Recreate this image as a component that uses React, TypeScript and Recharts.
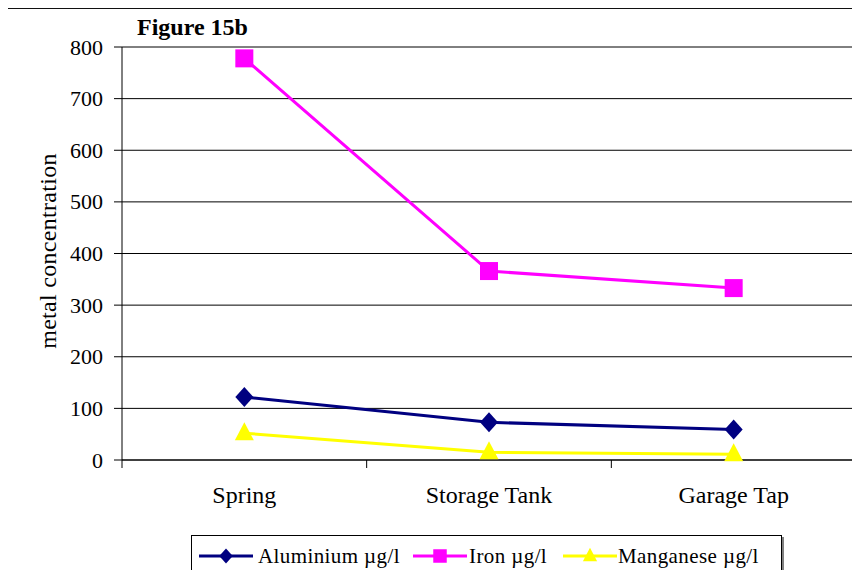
import React from "react";
import { LineChart, Line, XAxis, YAxis, CartesianGrid } from "recharts";

const sites = ["Spring", "Storage Tank", "Garage Tap"];
const aluminium = [122, 73, 59];
const iron = [778, 366, 333];
const manganese = [52, 15, 11];
const yTicks = [0, 100, 200, 300, 400, 500, 600, 700, 800];

const data = sites.map((name, i) => ({
  name,
  aluminium: aluminium[i],
  iron: iron[i],
  manganese: manganese[i],
}));

const W = 860;
const H = 578;
const PLOT_LEFT = 122;
const PLOT_RIGHT = 856;
const HALF_BAND = (PLOT_RIGHT - PLOT_LEFT) / sites.length / 2;
const FONT = '"Liberation Serif", "Times New Roman", serif';

type Shape = "diamond" | "square" | "triangle";

const series: { key: string; label: string; color: string; shape: Shape }[] = [
  { key: "aluminium", label: "Aluminium µg/l", color: "#000080", shape: "diamond" },
  { key: "iron", label: "Iron µg/l", color: "#FF00FF", shape: "square" },
  { key: "manganese", label: "Manganese µg/l", color: "#FFFF00", shape: "triangle" },
];

// legend swatch positions inside the legend box
const legendSwatchX = [7, 221, 371];
const legendTextX = [66, 277, 426];

const Marker = ({ cx, cy, shape, color, s = 1 }: { cx: number; cy: number; shape: Shape; color: string; s?: number }) => {
  if (shape === "diamond") {
    return <polygon points={`${cx},${cy - 10 * s} ${cx + 9 * s},${cy} ${cx},${cy + 10 * s} ${cx - 9 * s},${cy}`} fill={color} />;
  }
  if (shape === "square") {
    return <rect x={cx - 9 * s} y={cy - 9 * s} width={18 * s} height={18 * s} fill={color} />;
  }
  return <polygon points={`${cx},${cy - 11 * s} ${cx + 9.5 * s},${cy + 7 * s} ${cx - 9.5 * s},${cy + 7 * s}`} fill={color} />;
};

// category labels centred in each band, tick marks on the band edges
const CategoryTick = (props: any) => {
  const { x, y, payload, index } = props;
  return (
    <g>
      <line x1={x - HALF_BAND} y1={y} x2={x - HALF_BAND} y2={y + 8} stroke="#000" />
      {index === sites.length - 1 && <line x1={x + HALF_BAND} y1={y} x2={x + HALF_BAND} y2={y + 8} stroke="#000" />}
      <text x={x} y={y + 43} textAnchor="middle" fontSize={24} fontFamily={FONT} fill="#000">
        {payload.value}
      </text>
    </g>
  );
};

const ValueTick = (props: any) => {
  const { x, y, payload } = props;
  return (
    <text x={x} y={y + 7.5} textAnchor="end" fontSize={22} fontFamily={FONT} fill="#000">
      {payload.value}
    </text>
  );
};

export default function App() {
  return (
    <div
      style={{
        position: "relative",
        width: W,
        height: H,
        margin: -8,
        overflow: "hidden",
        background: "#fff",
        fontFamily: FONT,
      }}
    >
      <div
        style={{
          position: "absolute",
          left: 6,
          top: 7,
          width: W + 20,
          height: H + 20,
          border: "2px solid #111",
        }}
      />
      <div
        style={{
          position: "absolute",
          left: 137,
          top: 15,
          fontSize: 24,
          fontWeight: "bold",
          lineHeight: "24px",
          whiteSpace: "nowrap",
          fontFamily: FONT,
        }}
      >
        Figure 15b
      </div>
      <div
        style={{
          position: "absolute",
          left: 48,
          top: 251,
          fontSize: 24,
          letterSpacing: 0.3,
          whiteSpace: "nowrap",
          fontFamily: FONT,
          transform: "translate(-50%, -50%) rotate(-90deg)",
        }}
      >
        metal concentration
      </div>

      <div style={{ position: "absolute", left: 0, top: 0 }}>
        <LineChart
          width={W}
          height={H}
          data={data}
          style={{ fontFamily: FONT }}
          margin={{ top: 47, right: W - PLOT_RIGHT, bottom: 78, left: 0 }}
        >
          <CartesianGrid vertical={false} stroke="#000" strokeWidth={1} />
          <XAxis
            dataKey="name"
            height={40}
            padding={{ left: HALF_BAND, right: HALF_BAND }}
            axisLine={{ stroke: "#404040", strokeWidth: 2 }}
            tickLine={false}
            tickSize={0}
            tickMargin={0}
            tick={<CategoryTick />}
            interval={0}
          />
          <XAxis xAxisId="top" dataKey="name" orientation="top" height={0} tick={false} tickLine={false} axisLine={{ stroke: "#808080", strokeWidth: 2 }} />
          <YAxis
            width={PLOT_LEFT}
            domain={[0, 800]}
            ticks={yTicks}
            interval={0}
            axisLine={{ stroke: "#000" }}
            tickLine={{ stroke: "#000" }}
            tickSize={8}
            tickMargin={11}
            tick={<ValueTick />}
          />
          <YAxis yAxisId="right" orientation="right" width={0} domain={[0, 800]} tick={false} tickLine={false} axisLine={{ stroke: "#808080", strokeWidth: 2 }} />
          {series.map((s) => (
            <Line
              key={s.key}
              type="linear"
              dataKey={s.key}
              stroke={s.color}
              strokeWidth={3}
              isAnimationActive={false}
              dot={(p: any) => <Marker key={`${s.key}-${p.index}`} cx={p.cx} cy={p.cy} shape={s.shape} color={s.color} />}
              activeDot={false}
            />
          ))}
        </LineChart>
      </div>

      <div
        style={{
          position: "absolute",
          left: 191,
          top: 535,
          width: 591,
          height: 41,
          boxSizing: "border-box",
          border: "1px solid #000",
          boxShadow: "2px 2px 0 #808080",
          fontSize: 21,
          fontFamily: FONT,
          background: "#fff",
        }}
      >
        {series.map((s, i) => (
          <React.Fragment key={s.key}>
            <svg width={54} height={24} style={{ position: "absolute", left: legendSwatchX[i], top: 8 }}>
              <line x1={0} y1={12} x2={54} y2={12} stroke={s.color} strokeWidth={3} />
              <Marker cx={27} cy={12} shape={s.shape} color={s.color} s={0.75} />
            </svg>
            <span
              style={{
                position: "absolute",
                left: legendTextX[i],
                top: 7,
                lineHeight: "26px",
                letterSpacing: 0.4,
                whiteSpace: "nowrap",
                fontFamily: FONT,
              }}
            >
              {s.label}
            </span>
          </React.Fragment>
        ))}
      </div>
    </div>
  );
}
